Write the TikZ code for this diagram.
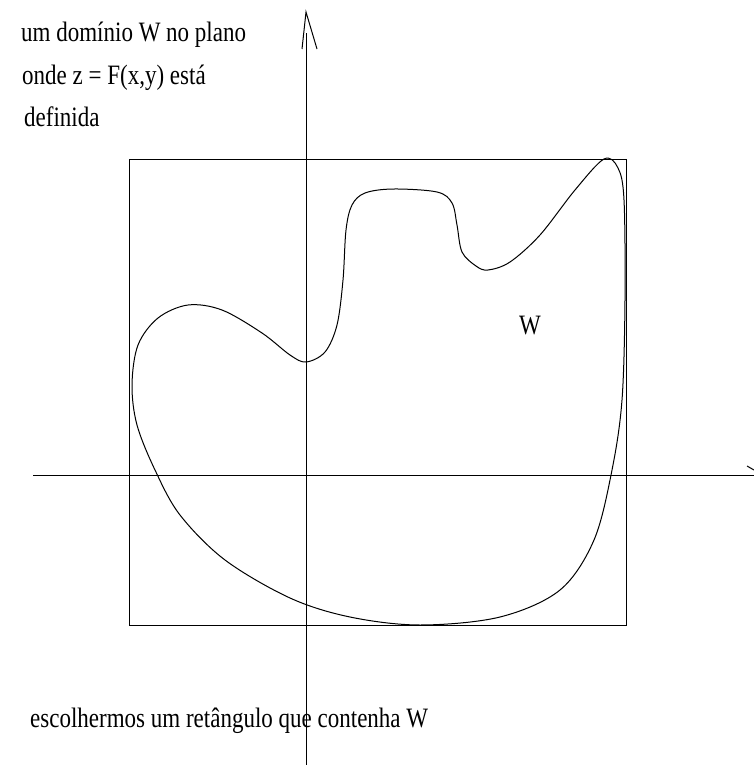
\documentclass[tikz,border=0pt]{standalone}
\usepackage{fontspec}
\setmainfont{Liberation Serif}
\newcommand{\tallt}[1]{\scalebox{1}[1.22]{#1}}
\begin{document}
\begin{tikzpicture}[x=1pt,y=-1pt,
  ln/.style={line width=1pt,black},
  lbl/.style={anchor=base west,inner sep=0pt,font=\fontsize{23}{26}\selectfont}]
\useasboundingbox (0,0) rectangle (754,765);
% rectangle
\draw[ln] (129,159) rectangle (626,625);
% axes
\draw[ln] (33,475) -- (754,475);
\draw[ln] (747,466) -- (754,470);
\draw[ln] (306,765) -- (306,33);
\draw[ln] (302,49) -- (306,12) -- (317,49);
% domain W
\draw[ln] plot[smooth cycle,tension=0.55] coordinates {
 (306,362) (325,352) (337,325) (343,280) (346,230) (352,205) (365,193)
 (393,189) (437,192) (452,203) (457,225) (462,252) (476,266) (488,270)
 (510,262) (540,235) (575,190) (604,159) (618,168) (624,200) (625,300)
 (622,400) (612,470) (594,540) (560,590) (500,617) (420,625) (350,617)
 (290,598) (225,560) (180,515) (155,470) (137,425) (132,385) (138,345)
 (158,318) (188,305) (222,310) (262,333) (290,355)};
% texts
\node[lbl] (t1) at (21,42) {\tallt{um domínio W no plano}};
\node[lbl] (t2) at (22,85) {\tallt{onde z = F(x,y) está}};
\node[lbl] (t3) at (24,127) {\tallt{definida}};
\node[lbl] (w) at (519,334) {\tallt{W}};
\node[lbl] (t4) at (30,727) {\tallt{escolhermos um retângulo que contenha W}};
\end{tikzpicture}
\end{document}
